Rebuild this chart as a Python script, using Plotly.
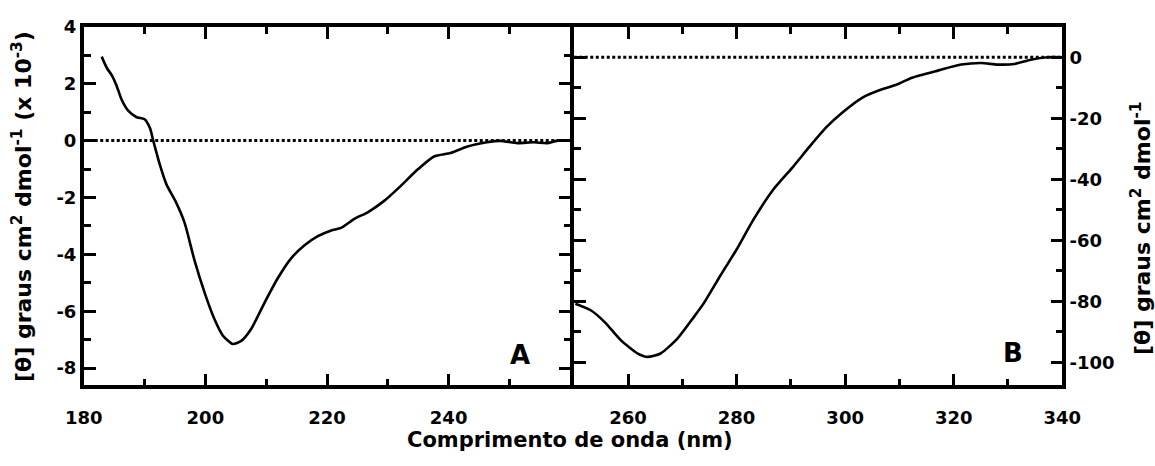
import plotly.graph_objects as go

# Far-UV panel (A)
left_nm = [182.95, 183.8, 184.6, 185.4, 186.2, 187.3, 188.7, 190.0, 190.9, 191.4, 192.5, 193.6, 195.2,
           196.6, 198.2, 199.9, 201.5, 202.9, 204.5, 205.9, 207.5, 209.7, 211.9, 214.1, 216.3, 218.5,
           220.7, 222.3, 224.5, 226.7, 229.4, 232.1, 234.9, 237.6, 240.3, 243.1, 246.3, 248.5, 251.3,
           254.0, 256.2, 257.8, 260.0]
left_theta = [2.95, 2.55, 2.3, 1.93, 1.45, 1.05, 0.82, 0.75, 0.43, 0.02, -0.84, -1.54, -2.18,
              -2.9, -4.2, -5.36, -6.28, -6.86, -7.15, -7.04, -6.63, -5.71, -4.84, -4.14, -3.68, -3.36,
              -3.16, -3.07, -2.75, -2.52, -2.12, -1.60, -1.02, -0.56, -0.44, -0.21, -0.06, -0.01, -0.09,
              -0.06, -0.09, -0.01, 0.0]

# Near-UV panel (B)
right_nm = [250.3, 253.2, 255.7, 258.7, 261.8, 263.6, 266.0, 269.1, 272.1, 274.0, 277.0, 280.0, 283.1,
            286.7, 290.4, 293.4, 296.5, 299.5, 303.2, 306.8, 309.3, 312.3, 317.2, 321.4, 325.1, 328.1,
            331.2, 334.2, 337.3, 340.0]
right_theta = [-80.8, -83.0, -86.8, -92.8, -97.1, -98.2, -97.1, -92.2, -85.2, -80.5, -71.6, -63.0, -53.2,
               -43.5, -35.9, -29.4, -23.0, -18.1, -13.2, -10.5, -9.1, -6.7, -4.3, -2.4, -1.9, -2.4,
               -2.2, -0.8, 0.0, 0.0]

left_xticks = [180, 200, 220, 240]
left_xminor = [190, 210, 230, 250]
right_xticks = [260, 280, 300, 320, 340]
right_xminor = [270, 290, 310, 330]
left_yticks = [4, 2, 0, -2, -4, -6, -8]
left_yminor = [3, 1, -1, -3, -5, -7]
right_yticks = [0, -20, -40, -60, -80, -100]
right_yminor = [-10, -30, -50, -70, -90]

FONT = "DejaVu Sans"
tickfont = dict(family=FONT, size=18, color="black", weight="bold")

fig = go.Figure()

# zero reference lines
fig.add_trace(go.Scatter(x=[180, 260], y=[0, 0], mode="lines", xaxis="x", yaxis="y",
                         line=dict(color="black", width=3, dash="3px,2.5px"), hoverinfo="skip"))
fig.add_trace(go.Scatter(x=[250, 340], y=[0, 0], mode="lines", xaxis="x2", yaxis="y2",
                         line=dict(color="black", width=3, dash="3px,2.5px"), hoverinfo="skip"))
# spectra
fig.add_trace(go.Scatter(x=left_nm, y=left_theta, mode="lines", xaxis="x", yaxis="y",
                         line=dict(color="black", width=2.6, shape="spline", smoothing=0.6)))
fig.add_trace(go.Scatter(x=right_nm, y=right_theta, mode="lines", xaxis="x2", yaxis="y2",
                         line=dict(color="black", width=2.6, shape="spline", smoothing=0.6)))

W, H = 1155, 466
LW = 3.5
x0, xm, x1 = 82 + LW / 2, 572, 1064 - LW / 2
ytop, ybot = 25 + LW / 2, 387 - LW / 2
ydom = [1 - ybot / H, 1 - ytop / H]


def axis_common():
    return dict(showline=True, linecolor="black", linewidth=LW, mirror="allticks",
                ticks="inside", ticklen=12, tickwidth=3, tickcolor="black",
                showgrid=False, zeroline=False, tickfont=tickfont, automargin=False)


def lbl(v):
    return str(v).replace("\u2212", "-")


xa = axis_common()
xa.update(domain=[x0 / W, (xm - LW / 2) / W], range=[180, 260], tickmode="array",
          tickvals=left_xticks, ticktext=[lbl(v) for v in left_xticks], anchor="y",
          ticklabelstandoff=13,
          minor=dict(tickmode="array", tickvals=left_xminor, ticklen=7, tickwidth=3,
                     tickcolor="black", ticks="inside"))
xa2 = axis_common()
xa2.update(domain=[(xm + LW / 2) / W, x1 / W], range=[250, 340], tickmode="array",
           tickvals=right_xticks, ticktext=[lbl(v) for v in right_xticks], anchor="y2",
           ticklabelstandoff=13,
           minor=dict(tickmode="array", tickvals=right_xminor, ticklen=7, tickwidth=3,
                      tickcolor="black", ticks="inside"))
ya = axis_common()
ya.update(domain=ydom, range=[-8.6, 4], tickmode="array", tickvals=left_yticks,
          ticktext=[lbl(v) for v in left_yticks], anchor="x", side="left",
          minor=dict(tickmode="array", tickvals=left_yminor, ticklen=7, tickwidth=3,
                     tickcolor="black", ticks="inside"))
ya2 = axis_common()
ya2.update(domain=ydom, range=[-107.5, 10], tickmode="array", tickvals=right_yticks,
           ticktext=[lbl(v) for v in right_yticks], anchor="x2", side="right",
           minor=dict(tickmode="array", tickvals=right_yminor, ticklen=7, tickwidth=3,
                      tickcolor="black", ticks="inside"))

xtitlefont = dict(family=FONT, size=21, color="black", weight="bold")
ytitlefont = dict(family=FONT, size=22, color="black", weight="bold")
annotations = [
    dict(text="Comprimento de onda (nm)", x=570 / W, y=1 - 440 / H, xref="paper", yref="paper",
         showarrow=False, font=xtitlefont, xanchor="center", yanchor="middle"),
    dict(text="[\u03b8] graus cm<sup>2</sup> dmol<sup>-1</sup> (x 10<sup>-3</sup>)", x=22 / W,
         y=1 - 207 / H, xref="paper", yref="paper", showarrow=False, font=ytitlefont,
         textangle=-90, xanchor="center", yanchor="middle"),
    dict(text="[\u03b8] graus cm<sup>2</sup> dmol<sup>-1</sup>", x=1141 / W, y=1 - 228 / H,
         xref="paper", yref="paper", showarrow=False, font=ytitlefont, textangle=-90,
         xanchor="center", yanchor="middle"),
    dict(text="A", x=520 / W, y=1 - 355 / H, xref="paper", yref="paper", showarrow=False,
         font=dict(family=FONT, size=26, color="black", weight="bold"),
         xanchor="center", yanchor="middle"),
    dict(text="B", x=1013 / W, y=1 - 353 / H, xref="paper", yref="paper", showarrow=False,
         font=dict(family=FONT, size=26, color="black", weight="bold"),
         xanchor="center", yanchor="middle"),
]

fig.update_layout(width=W, height=H, margin=dict(l=0, r=0, t=0, b=0),
                  paper_bgcolor="white", plot_bgcolor="white", showlegend=False,
                  xaxis=xa, xaxis2=xa2, yaxis=ya, yaxis2=ya2, annotations=annotations)

fig.write_html("out.html")
